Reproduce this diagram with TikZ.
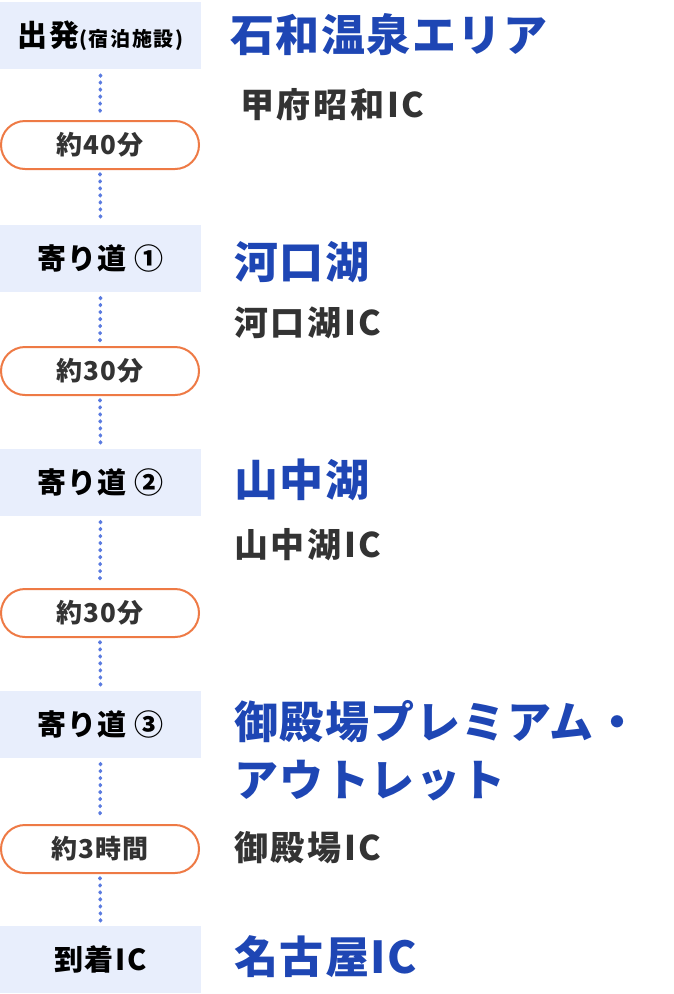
\documentclass[tikz,border=0pt]{standalone}
\usepackage{fontspec}
\setmainfont{Noto Sans CJK JP}
\usetikzlibrary{positioning}
\definecolor{boxblue}{HTML}{E8EEFC}
\definecolor{titleblue}{HTML}{1E46B4}
\definecolor{textgray}{HTML}{333333}
\definecolor{pillorange}{HTML}{EE7A45}
\definecolor{dotblue}{HTML}{5A7BE0}
\newcommand{\track}[1]{\addfontfeatures{LetterSpace=#1}}
\tikzset{
	stop/.style={
		fill=boxblue,
		minimum width=201pt,
		minimum height=67pt,
		inner sep=0pt,
		font=\bfseries\fontsize{29}{32}\selectfont\track{5}
	},
	pill/.style={
		draw=pillorange,
		line width=2pt,
		rounded corners=24pt,
		fill=white,
		minimum width=198pt,
		minimum height=48pt,
		inner sep=0pt,
		text=textgray,
		font=\bfseries\fontsize{26}{28}\selectfont\track{5}
	},
	title/.style={
		anchor=west,
		inner sep=0pt,
		text=titleblue,
		align=left,
		font=\bfseries\fontsize{44}{58}\selectfont\track{3.5}
	},
	exit/.style={
		anchor=west,
		inner sep=0pt,
		text=textgray,
		font=\bfseries\fontsize{34}{40}\selectfont\track{8}
	},
	route/.style={
		dotblue,
		line width=3.6pt,
		line cap=round,
		dash pattern=on 0.8pt off 6.2pt
	}
}
\begin{document}
\begin{tikzpicture}[x=1pt,y=-1pt]
  \useasboundingbox (0,0) rectangle (674,994);

  % left column
  \node [stop] (start) at (100.5,35.5) {{\fontsize{30}{32}\selectfont 出発}{\fontsize{20}{22}\selectfont\track{8}(宿泊施設)}};
  \node [stop] (detour1) at (100.5,258) {寄り道 ①};
  \node [stop] (detour2) at (100.5,482) {寄り道 ②};
  \node [stop] (detour3) at (100.5,724) {寄り道 ③};
  \node [stop] (goal) at (100.5,959) {到着IC};

  \node [pill] (t1) at (100,145) {約40分};
  \node [pill] (t2) at (100,371) {約30分};
  \node [pill] (t3) at (100,613) {約30分};
  \node [pill] (t4) at (100,849) {約3時間};

  \draw [route] ([yshift=-6pt]start.south) -- ([yshift=5pt]t1.north);
  \draw [route] ([yshift=-4pt]t1.south) -- ([yshift=4pt]detour1.north);
  \draw [route] ([yshift=-6pt]detour1.south) -- ([yshift=5pt]t2.north);
  \draw [route] ([yshift=-4pt]t2.south) -- ([yshift=4pt]detour2.north);
  \draw [route] ([yshift=-6pt]detour2.south) -- ([yshift=5pt]t3.north);
  \draw [route] ([yshift=-4pt]t3.south) -- ([yshift=4pt]detour3.north);
  \draw [route] ([yshift=-6pt]detour3.south) -- ([yshift=5pt]t4.north);
  \draw [route] ([yshift=-4pt]t4.south) -- ([yshift=4pt]goal.north);

  % right column
  \node [title] (area) at (230,35) {石和温泉エリア};
  \node [exit] (kofu) at (240,105) {甲府昭和IC};
  \node [title] (kawaguchi) at (234,262) {河口湖};
  \node [exit] (kawaguchiic) at (234,323) {河口湖IC};
  \node [title] (yamanaka) at (234,480) {山中湖};
  \node [exit] (yamanakaic) at (234,545) {山中湖IC};
  \node [title] (outlet) at (234,751) {御殿場プレミアム・\\アウトレット};
  \node [exit] (gotemba) at (234,848) {御殿場IC};
  \node [title] (nagoya) at (234,957) {名古屋IC};
\end{tikzpicture}
\end{document}
